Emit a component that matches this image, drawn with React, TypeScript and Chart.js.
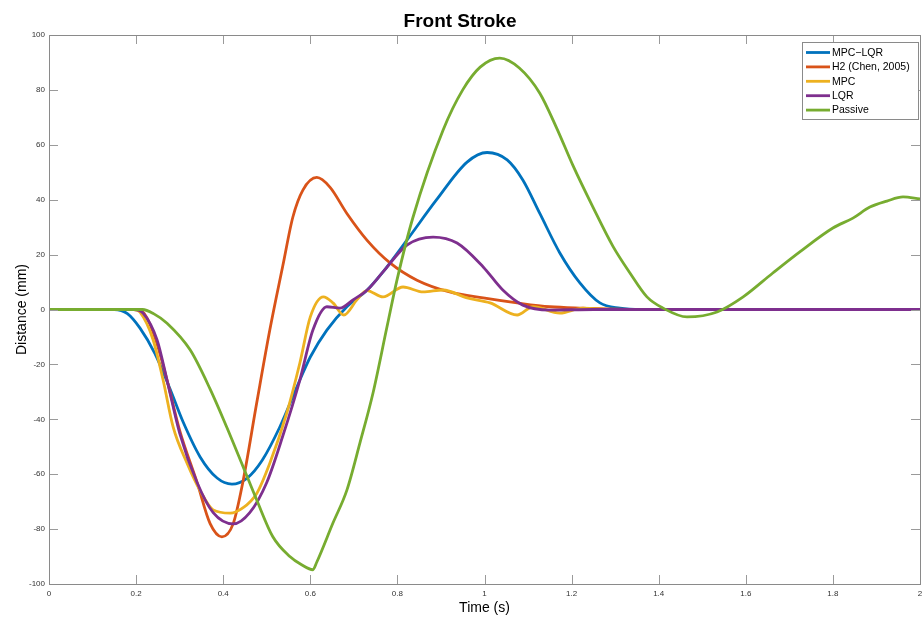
import { useEffect, useRef } from 'react';
import { Chart, registerables } from 'chart.js';

Chart.register(...registerables);

const FONT = '"Liberation Sans", Arial, Helvetica, sans-serif';

const chartTitle = 'Front Stroke';
const xAxisTitle = 'Time (s)';
const yAxisTitle = 'Distance (mm)';

const xTicks = [0, 0.2, 0.4, 0.6, 0.8, 1, 1.2, 1.4, 1.6, 1.8, 2];
const xTickLabels = ['0', '0.2', '0.4', '0.6', '0.8', '1', '1.2', '1.4', '1.6', '1.8', '2'];
const yTicks = [-100, -80, -60, -40, -20, 0, 20, 40, 60, 80, 100];
const yTickLabels = ['-100', '-80', '-60', '-40', '-20', '0', '20', '40', '60', '80', '100'];

const seriesNames = ['MPC\u2212LQR', 'H2 (Chen, 2005)', 'MPC', 'LQR', 'Passive'];
const seriesColors = ['#0072BD', '#D95319', '#EDB120', '#7E2F8E', '#77AC30'];

const mpcLqrT = [0, 0.15, 0.18, 0.209, 0.243, 0.278, 0.308, 0.347, 0.386, 0.42, 0.455, 0.49, 0.53, 0.576, 0.6, 0.638, 0.684, 0.73, 0.767, 0.822, 0.89, 0.96, 1.006, 1.052, 1.088, 1.127, 1.173, 1.219, 1.265, 1.311, 1.36, 2.0];
const mpcLqrY = [0, 0, -1.5, -6.8, -16, -29, -41, -53.7, -61.4, -63.6, -61.4, -54.8, -42.8, -25.7, -17.3, -7.5, 1, 7, 13.7, 25.3, 40, 53.7, 57.2, 54.5, 47.2, 35, 20.6, 9.7, 2.4, 0.5, 0, 0];

const h2T = [0, 0.195, 0.216, 0.243, 0.271, 0.3, 0.34, 0.37, 0.397, 0.423, 0.445, 0.477, 0.507, 0.537, 0.56, 0.583, 0.615, 0.645, 0.684, 0.73, 0.783, 0.845, 0.92, 0.997, 1.075, 1.15, 1.226, 1.35, 2.0];
const h2Y = [0, 0, -1, -10, -25.7, -44, -63, -78, -82.8, -78, -63, -34, -7.5, 16, 33.7, 43.5, 48.1, 44.6, 35, 25.3, 17, 10.7, 6.4, 4.2, 2.4, 1, 0.5, 0, 0];

const mpcT = [0, 0.195, 0.209, 0.239, 0.262, 0.285, 0.317, 0.347, 0.377, 0.416, 0.445, 0.477, 0.507, 0.546, 0.576, 0.6, 0.63, 0.652, 0.677, 0.707, 0.73, 0.767, 0.813, 0.859, 0.905, 0.96, 1.013, 1.075, 1.111, 1.173, 1.226, 1.3, 2.0];
const mpcY = [0, 0, -1, -11, -25.7, -42.8, -56, -66, -73, -74.2, -72.3, -67, -56, -37.7, -19.5, -2.7, 4.6, 2.4, -2, 3.5, 6.9, 4.6, 8.2, 6.4, 7.1, 4.2, 2.4, -2, 1, -1.3, 0.5, 0, 0];

const lqrT = [0, 0.195, 0.216, 0.248, 0.271, 0.3, 0.34, 0.377, 0.423, 0.461, 0.5, 0.537, 0.576, 0.606, 0.638, 0.668, 0.698, 0.73, 0.767, 0.822, 0.882, 0.937, 0.997, 1.042, 1.088, 1.15, 1.25, 2.0];
const lqrY = [0, 0, -1.3, -11, -25.7, -45, -63, -74, -78.1, -74, -63, -46, -25.7, -7.5, 1, 0.5, 3.5, 7, 13.7, 23.5, 26.4, 24.2, 15.5, 7.1, 1.6, -0.2, 0, 0];

const passiveT = [0, 0.2, 0.215, 0.24, 0.271, 0.324, 0.37, 0.408, 0.445, 0.477, 0.514, 0.553, 0.58, 0.606, 0.615, 0.652, 0.684, 0.714, 0.744, 0.776, 0.799, 0.836, 0.905, 0.95, 0.99, 1.035, 1.08, 1.127, 1.166, 1.203, 1.249, 1.295, 1.334, 1.373, 1.41, 1.465, 1.534, 1.594, 1.662, 1.724, 1.8, 1.846, 1.885, 1.924, 1.961, 2.0];
const passiveY = [0, 0, 0, -1.5, -5, -14.7, -29, -42.8, -57, -69.4, -82.8, -90, -93, -94.8, -92, -77.8, -65.8, -48.6, -30.4, -6.4, 10.7, 33.7, 65.4, 80, 88.3, 91.6, 88, 78.8, 66, 52.5, 37.3, 23, 13.3, 4.6, 0.5, -2.7, -0.9, 4.6, 13.3, 21, 29.7, 33.3, 37.3, 39.5, 41, 40.3];

const seriesT = [mpcLqrT, h2T, mpcT, lqrT, passiveT];
const seriesY = [mpcLqrY, h2Y, mpcY, lqrY, passiveY];

const boxPlugin = {
  id: 'matlabBox',
  afterDraw(chart: any) {
    const { ctx, chartArea } = chart;
    const { left, right, top, bottom } = chartArea;
    const xs = chart.scales.x;
    const ys = chart.scales.y;
    ctx.save();
    ctx.lineWidth = 1;
    ctx.strokeStyle = '#9a9a9a';
    const tl = 9;
    ctx.beginPath();
    xTicks.forEach((v) => {
      const px = Math.round(xs.getPixelForValue(v)) + 0.5;
      ctx.moveTo(px, bottom);
      ctx.lineTo(px, bottom - tl);
      ctx.moveTo(px, top);
      ctx.lineTo(px, top + tl);
    });
    yTicks.forEach((v) => {
      const py = Math.round(ys.getPixelForValue(v)) + 0.5;
      ctx.moveTo(left, py);
      ctx.lineTo(left + tl, py);
      ctx.moveTo(right, py);
      ctx.lineTo(right - tl, py);
    });
    ctx.stroke();
    ctx.strokeStyle = '#8a8a8a';
    ctx.strokeRect(Math.round(left) + 0.5, Math.round(top) + 0.5, Math.round(right - left), Math.round(bottom - top));

    // legend
    const lx = 802.5;
    const ly = 42.5;
    const lw = 116;
    const lh = 77;
    ctx.fillStyle = '#ffffff';
    ctx.fillRect(lx, ly, lw, lh);
    ctx.strokeStyle = '#8a8a8a';
    ctx.strokeRect(lx, ly, lw, lh);
    ctx.font = `10.5px ${FONT}`;
    ctx.textBaseline = 'middle';
    ctx.textAlign = 'left';
    chart.data.datasets.forEach((ds: any, i: number) => {
      const cy = 52.5 + i * 14.4;
      ctx.strokeStyle = ds.borderColor;
      ctx.lineWidth = 2.8;
      ctx.beginPath();
      ctx.moveTo(806, cy);
      ctx.lineTo(830, cy);
      ctx.stroke();
      ctx.fillStyle = '#000';
      ctx.fillText(ds.label, 832, cy + 0.5);
    });
    ctx.restore();
  },
};

export default function App() {
  const ref = useRef<HTMLCanvasElement | null>(null);
  useEffect(() => {
    if (!ref.current) return;
    const datasets = seriesNames.map((name, i) => ({
      label: name,
      data: seriesT[i].map((t, j) => ({ x: t, y: seriesY[i][j] })),
      borderColor: seriesColors[i],
      backgroundColor: seriesColors[i],
      borderWidth: 2.8,
      pointRadius: 0,
      fill: false,
      cubicInterpolationMode: 'monotone' as const,
      order: seriesNames.length - i,
    }));
    const chart = new Chart(ref.current, {
      type: 'line',
      data: { datasets },
      options: {
        animation: false,
        responsive: false,
        devicePixelRatio: 1,
        layout: { padding: { left: 0, right: 4, top: 0, bottom: 0 }, autoPadding: false },
        plugins: {
          legend: { display: false },
          tooltip: { enabled: false },
          title: {
            display: true,
            text: chartTitle,
            color: '#000',
            font: { family: FONT, size: 19, weight: 'bold' },
            padding: { top: 10, bottom: 2.2 },
          },
        },
        scales: {
          x: {
            type: 'linear',
            min: 0,
            max: 2,
            afterBuildTicks: (s: any) => {
              s.ticks = xTicks.map((v) => ({ value: v }));
            },
            afterFit: (s: any) => {
              s.height = 35;
              s.paddingLeft = 0;
              s.paddingRight = 0;
            },
            ticks: {
              autoSkip: false,
              maxRotation: 0,
              padding: 5,
              color: '#333',
              font: { family: FONT, size: 8 },
              callback: (v: any) => xTickLabels[xTicks.indexOf(Number(v))] ?? '',
            },
            grid: { display: false, drawTicks: false },
            border: { display: false },
            title: {
              display: true,
              text: xAxisTitle,
              color: '#000',
              font: { family: FONT, size: 14 },
              padding: { top: 0, bottom: 2 },
            },
          },
          y: {
            type: 'linear',
            min: -100,
            max: 100,
            afterBuildTicks: (s: any) => {
              s.ticks = yTicks.map((v) => ({ value: v }));
            },
            afterFit: (s: any) => {
              s.width = 49;
              s.paddingTop = 0;
              s.paddingBottom = 0;
            },
            ticks: {
              autoSkip: false,
              padding: 4,
              color: '#333',
              font: { family: FONT, size: 8 },
              callback: (v: any) => yTickLabels[yTicks.indexOf(Number(v))] ?? '',
            },
            grid: { display: false, drawTicks: false },
            border: { display: false },
            title: {
              display: true,
              text: yAxisTitle,
              color: '#000',
              font: { family: FONT, size: 14 },
              padding: { top: 14, bottom: 0 },
            },
          },
        },
      },
      plugins: [boxPlugin],
    });
    return () => chart.destroy();
  }, []);
  return (
    <div style={{ position: 'absolute', left: 0, top: 0, width: 924, height: 619, background: '#fff' }}>
      <canvas ref={ref} width={924} height={619} style={{ display: 'block', width: 924, height: 619 }} />
    </div>
  );
}
